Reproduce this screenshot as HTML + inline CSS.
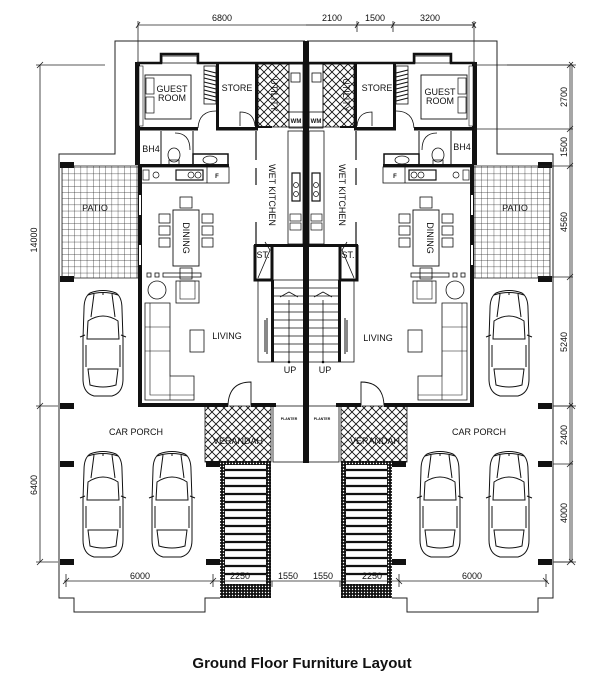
<!DOCTYPE html>
<html><head><meta charset="utf-8"><style>
html,body{margin:0;padding:0;background:#fff}
svg{display:block}
text{font-family:"Liberation Sans",sans-serif;fill:#111}
</style></head><body>
<svg width="603" height="689" viewBox="0 0 603 689" xmlns="http://www.w3.org/2000/svg">
<defs>
<pattern id="xh" width="8" height="8" patternUnits="userSpaceOnUse">
<path d="M0,0L8,8M8,0L0,8" stroke="#111" stroke-width="0.9"/>
</pattern>
<pattern id="grid" width="6.2" height="6.2" patternUnits="userSpaceOnUse">
<path d="M0,0H6.2M0,0V6.2" stroke="#222" stroke-width="0.7" fill="none"/>
</pattern>
<pattern id="dots" width="3" height="3" patternUnits="userSpaceOnUse">
<rect width="3" height="3" fill="#111"/><circle cx="1.5" cy="1.5" r="0.7" fill="#fff"/>
</pattern>
<g id="car" fill="none" stroke="#111" stroke-width="1">
<path d="M8,4 Q21,-1 34,4 Q40,8 40,20 L41,50 L41,90 Q41,104 30,107 L12,107 Q1,104 1,90 L1,50 L2,20 Q2,8 8,4Z"/>
<path d="M6,6 Q21,1 36,6" />
<path d="M12,5 L9,28 M30,5 L33,28 M21,3 V6"/>
<path d="M6,32 Q21,22 36,32 L37,50 L5,50Z"/>
<path d="M6,80 L36,80 L34,96 Q21,100 8,96Z"/>
<path d="M-2,48 L3,46 M44,48 L39,46"/>
<path d="M4,56 V78 M38,56 V78"/>
</g>
<g id="half">
<path d="M305,41H115V154H59V598H74V612H205V598H220" fill="none" stroke="#222" stroke-width="1"/>
<rect x="62" y="166" width="76" height="112" fill="url(#grid)" stroke="#222" stroke-width="0.8"/>
<rect x="60" y="162" width="14" height="6" fill="#111"/>
<rect x="60" y="276" width="14" height="6" fill="#111"/>
<rect x="60" y="403" width="14" height="6" fill="#111"/>
<rect x="60" y="461" width="14" height="6" fill="#111"/>
<rect x="60" y="559" width="14" height="6" fill="#111"/>
<rect x="206" y="461" width="14" height="6" fill="#111"/>
<rect x="206" y="559" width="14" height="6" fill="#111"/>
<path d="M137,63H161V54H198V63H303" fill="none" stroke="#111" stroke-width="2.5"/>
<rect x="162" y="56" width="35" height="7" fill="none" stroke="#111" stroke-width="0.8"/>
<rect x="135" y="62" width="5" height="103" fill="#111"/>
<rect x="139" y="66" width="4" height="60" fill="#fff" stroke="#111" stroke-width="0.6"/>
<rect x="145" y="75" width="46" height="44" fill="none" stroke="#111" stroke-width="0.9"/>
<rect x="146" y="78" width="8" height="16" fill="none" stroke="#111" stroke-width="0.7"/>
<rect x="146" y="97" width="8" height="16" fill="none" stroke="#111" stroke-width="0.7"/>
<rect x="204" y="66" width="12" height="38" fill="none" stroke="#111" stroke-width="0.8"/>
<path d="M204,70L216,73M204,74L216,77M204,78L216,81M204,82L216,85M204,86L216,89M204,90L216,93M204,94L216,97M204,98L216,101" stroke="#111" stroke-width="1"/>
<path d="M198,128 Q199,111 216,111" fill="none" stroke="#111" stroke-width="0.8"/>
<rect x="216" y="63" width="3" height="67" fill="#111"/>
<rect x="255" y="63" width="3" height="67" fill="#111"/>
<rect x="137" y="127" width="61" height="3.5" fill="#111"/>
<rect x="216" y="127" width="42" height="3.5" fill="#111"/>
<rect x="258" y="64" width="31" height="63" fill="url(#xh)" stroke="#111" stroke-width="0.8"/>
<path d="M258,127 H272" stroke="#111" stroke-width="2"/>
<path d="M240,126 V112 Q254,112 255,126" fill="none" stroke="#111" stroke-width="0.8"/>
<rect x="289" y="64" width="14" height="64" fill="none" stroke="#111" stroke-width="0.8"/>
<rect x="291" y="73" width="9" height="9" fill="none" stroke="#111" stroke-width="0.8"/>
<rect x="289" y="112" width="14" height="15" fill="none" stroke="#111" stroke-width="0.8"/>
<path d="M161,131 V165 M193,131 V165" stroke="#111" stroke-width="1"/>
<path d="M175,133 Q190,133 190,150" fill="none" stroke="#111" stroke-width="0.8"/>
<ellipse cx="174" cy="155" rx="6" ry="7" fill="none" stroke="#111" stroke-width="0.8"/>
<rect x="169" y="160" width="10" height="5" fill="none" stroke="#111" stroke-width="0.8"/>
<rect x="193" y="154" width="35" height="12" fill="none" stroke="#111" stroke-width="1.5"/>
<ellipse cx="210" cy="160" rx="7" ry="4" fill="none" stroke="#111" stroke-width="0.8"/>
<rect x="139" y="164" width="90" height="3" fill="#111"/>
<rect x="140" y="167" width="89" height="16" fill="none" stroke="#111" stroke-width="0.8"/>
<rect x="176" y="170" width="27" height="10" fill="none" stroke="#111" stroke-width="1.2"/>
<circle cx="191" cy="175" r="3" fill="none" stroke="#111" stroke-width="0.7"/>
<circle cx="198" cy="175" r="3" fill="none" stroke="#111" stroke-width="0.7"/>
<rect x="143" y="170" width="6" height="10" fill="none" stroke="#111" stroke-width="0.7"/>
<circle cx="156" cy="175" r="3" fill="none" stroke="#111" stroke-width="0.7"/>
<path d="M207,167 V183" stroke="#111" stroke-width="0.8"/>
<path d="M256,131 V160 M256,168 V185 M256,222 V245" stroke="#111" stroke-width="1.2"/>
<rect x="288" y="131" width="15" height="113" fill="none" stroke="#111" stroke-width="0.8"/>
<rect x="292" y="173" width="8" height="28" fill="none" stroke="#111" stroke-width="1.2"/>
<circle cx="296" cy="185" r="2.5" fill="none" stroke="#111" stroke-width="0.7"/>
<circle cx="296" cy="194" r="2.5" fill="none" stroke="#111" stroke-width="0.7"/>
<rect x="290" y="214" width="11" height="7" fill="none" stroke="#111" stroke-width="0.7"/>
<rect x="290" y="223" width="11" height="7" fill="none" stroke="#111" stroke-width="0.7"/>
<rect x="254" y="244" width="51" height="3" fill="#111"/>
<path d="M255,245 V280 H272 V247" fill="none" stroke="#111" stroke-width="3"/>
<path d="M258,278 L270,250 L265,242" fill="none" stroke="#111" stroke-width="0.8"/>
<rect x="258" y="280" width="47" height="82" fill="none" stroke="#111" stroke-width="0.8"/>
<rect x="271" y="280" width="3" height="82" fill="#111"/>
<path d="M274,288H305M274,296H305M274,304H305M274,312H305M274,320H305M274,328H305M274,336H305M274,344H305M274,352H305" stroke="#111" stroke-width="0.7"/>
<path d="M289,300 V362 M280,297 L289,292 L298,297" fill="none" stroke="#111" stroke-width="0.8"/>
<circle cx="289" cy="362" r="1.3" fill="#111"/>
<path d="M265,320 V352 M267,318 V354" stroke="#111" stroke-width="1"/>
<path d="M140,165 V405 H228 M251,405 H272" fill="none" stroke="#111" stroke-width="4"/>
<path d="M140,195 V215 M140,245 V265" stroke="#fff" stroke-width="2"/>
<path d="M251,405 V382 Q229,382 228,405" fill="none" stroke="#111" stroke-width="0.9"/>
<rect x="173" y="210" width="26" height="56" fill="none" stroke="#111" stroke-width="0.9"/>
<rect x="180" y="197" width="12" height="11" fill="none" stroke="#111" stroke-width="0.8"/>
<rect x="180" y="268" width="12" height="11" fill="none" stroke="#111" stroke-width="0.8"/>
<rect x="159" y="214" width="11" height="9" fill="none" stroke="#111" stroke-width="0.8"/>
<rect x="159" y="226" width="11" height="9" fill="none" stroke="#111" stroke-width="0.8"/>
<rect x="159" y="238" width="11" height="9" fill="none" stroke="#111" stroke-width="0.8"/>
<rect x="202" y="214" width="11" height="9" fill="none" stroke="#111" stroke-width="0.8"/>
<rect x="202" y="226" width="11" height="9" fill="none" stroke="#111" stroke-width="0.8"/>
<rect x="202" y="238" width="11" height="9" fill="none" stroke="#111" stroke-width="0.8"/>
<rect x="147" y="273" width="4" height="4" fill="none" stroke="#111" stroke-width="0.8"/>
<rect x="155" y="273" width="4" height="4" fill="none" stroke="#111" stroke-width="0.8"/>
<rect x="163" y="273" width="38" height="4" fill="none" stroke="#111" stroke-width="0.8"/>
<circle cx="157" cy="290" r="9" fill="none" stroke="#111" stroke-width="0.8"/>
<rect x="176" y="281" width="23" height="22" fill="none" stroke="#111" stroke-width="0.8"/>
<rect x="180" y="281" width="15" height="18" fill="none" stroke="#111" stroke-width="0.6"/>
<path d="M145,303 H170 V376 H194 V400 H145Z" fill="none" stroke="#111" stroke-width="0.8"/>
<path d="M150,303 V395 H194 M145,327 H170 M145,351 H170 M170,376 V400" fill="none" stroke="#111" stroke-width="0.6"/>
<rect x="190" y="330" width="14" height="22" fill="none" stroke="#111" stroke-width="0.8"/>
<rect x="205" y="406" width="66" height="56" fill="url(#xh)" stroke="#111" stroke-width="0.8"/>
<rect x="272" y="403" width="4" height="4" fill="#111"/>
<rect x="273" y="406" width="32" height="56" fill="none" stroke="#111" stroke-width="0.8"/>
<rect x="303" y="41" width="3" height="422" fill="#111"/>
<rect x="220" y="461" width="51" height="137" fill="url(#dots)"/>
<rect x="225" y="465" width="41" height="119" fill="#fff"/>
<path d="M225,470H266M225,478H266M225,486H266M225,494H266M225,502H266M225,510H266M225,518H266M225,526H266M225,534H266M225,542H266M225,550H266M225,558H266M225,566H266M225,574H266" stroke="#111" stroke-width="2.2"/>
<use href="#car" x="82" y="289"/>
<use href="#car" x="82" y="450"/>
<use href="#car" x="151" y="450"/>
<g stroke="#222" stroke-width="0.8" fill="none">
<path d="M138,25 H306 M138,21 V65 M136,28 L140,22"/>
<path d="M40,65 V562 M36,65 H105 M36,406 H58 M36,562 H58 M37,68 L43,62 M37,409 L43,403 M37,565 L43,559"/>
<path d="M64,581 H306 M66,574 V587 M213,574 V587 M272,581 V587 M63,584 L69,578 M210,584 L216,578"/>
</g>
</g>
</defs>
<use href="#half"/>
<use href="#half" transform="translate(612,0) scale(-1,1)"/>
<g stroke="#222" stroke-width="0.8" fill="none">
<path d="M306,25 H474 M357,21 V32 M393,21 V32 M355,28 L359,22 M391,28 L395,22 M472,28 L476,22"/>
<path d="M570,65 V562 M474,65 H573 M474,129 H573 M538,166 H573 M538,277 H573 M553,406 H573 M553,464 H573 M553,562 H573"/>
<path d="M567,68 L573,62 M567,132 L573,126 M567,169 L573,163 M567,280 L573,274 M567,409 L573,403 M567,467 L573,461 M567,565 L573,559"/>
</g>
<g font-size="9">
<text x="222" y="21" text-anchor="middle">6800</text>
<text x="332" y="21" text-anchor="middle">2100</text>
<text x="375" y="21" text-anchor="middle">1500</text>
<text x="430" y="21" text-anchor="middle">3200</text>
<text transform="translate(37,240) rotate(-90)" text-anchor="middle">14000</text>
<text transform="translate(37,485) rotate(-90)" text-anchor="middle">6400</text>
<text transform="translate(567,97) rotate(-90)" text-anchor="middle">2700</text>
<text transform="translate(567,147) rotate(-90)" text-anchor="middle">1500</text>
<text transform="translate(567,222) rotate(-90)" text-anchor="middle">4560</text>
<text transform="translate(567,342) rotate(-90)" text-anchor="middle">5240</text>
<text transform="translate(567,435) rotate(-90)" text-anchor="middle">2400</text>
<text transform="translate(567,513) rotate(-90)" text-anchor="middle">4000</text>
<text x="140" y="579" text-anchor="middle">6000</text>
<text x="240" y="579" text-anchor="middle">2250</text>
<text x="288" y="579" text-anchor="middle">1550</text>
<text x="323" y="579" text-anchor="middle">1550</text>
<text x="372" y="579" text-anchor="middle">2250</text>
<text x="472" y="579" text-anchor="middle">6000</text>
<text x="172" y="92" text-anchor="middle">GUEST</text>
<text x="172" y="101" text-anchor="middle">ROOM</text>
<text x="440" y="95" text-anchor="middle">GUEST</text>
<text x="440" y="104" text-anchor="middle">ROOM</text>
<text x="237" y="91" text-anchor="middle">STORE</text>
<text x="377" y="91" text-anchor="middle">STORE</text>
<text transform="translate(271,95) rotate(90)" text-anchor="middle">UTILITY</text>
<text transform="translate(343,95) rotate(90)" text-anchor="middle">UTILITY</text>
<text x="151" y="152" text-anchor="middle">BH4</text>
<text x="462" y="150" text-anchor="middle">BH4</text>
<text transform="translate(269,195) rotate(90)" text-anchor="middle">WET KITCHEN</text>
<text transform="translate(339,195) rotate(90)" text-anchor="middle">WET KITCHEN</text>
<text transform="translate(183,238) rotate(90)" text-anchor="middle">DINING</text>
<text transform="translate(427,238) rotate(90)" text-anchor="middle">DINING</text>
<text x="95" y="211" text-anchor="middle">PATIO</text>
<text x="515" y="211" text-anchor="middle">PATIO</text>
<text x="263" y="258" text-anchor="middle">ST.</text>
<text x="348" y="258" text-anchor="middle">ST.</text>
<text x="227" y="339" text-anchor="middle">LIVING</text>
<text x="378" y="341" text-anchor="middle">LIVING</text>
<text x="290" y="373" text-anchor="middle">UP</text>
<text x="325" y="373" text-anchor="middle">UP</text>
<text x="136" y="435" text-anchor="middle">CAR  PORCH</text>
<text x="479" y="435" text-anchor="middle">CAR  PORCH</text>
<text x="238" y="444" text-anchor="middle">VERANDAH</text>
<text x="375" y="444" text-anchor="middle">VERANDAH</text>
</g>
<g font-size="6" font-weight="bold">
<text x="217" y="178" text-anchor="middle">F</text>
<text x="395" y="178" text-anchor="middle">F</text>
<text x="296" y="123" text-anchor="middle">WM</text>
<text x="316" y="123" text-anchor="middle">WM</text>
</g>
<g font-size="3.5" font-weight="bold">
<text x="289" y="420" text-anchor="middle">PLANTER</text>
<text x="322" y="420" text-anchor="middle">PLANTER</text>
</g>
<text x="302" y="668" text-anchor="middle" font-size="15" font-weight="bold" fill="#222">Ground Floor Furniture Layout</text>
</svg>
</body></html>
